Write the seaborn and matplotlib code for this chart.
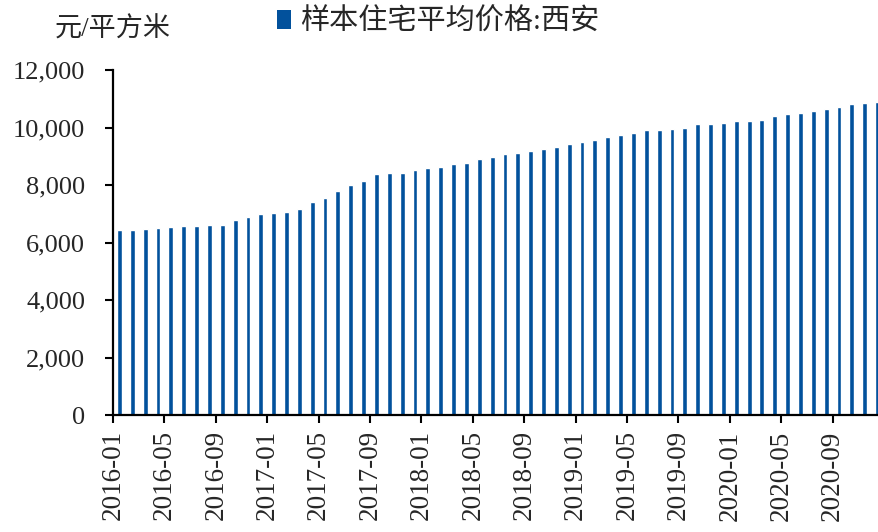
import matplotlib
matplotlib.use("Agg")
import matplotlib.pyplot as plt
from matplotlib.patches import Patch
from matplotlib.ticker import FuncFormatter
import seaborn as sns
import pandas as pd

# Monthly average price of sample residences, Xi'an (yuan per square metre)
months = [f"{y}-{m:02d}" for y in range(2016, 2021) for m in range(1, 13)]
prices = [
    6420, 6430, 6470, 6500, 6540, 6570, 6575, 6610, 6610, 6770, 6890, 6990,
    7030, 7060, 7165, 7400, 7550, 7780, 7990, 8140, 8370, 8415, 8420, 8520,
    8580, 8640, 8730, 8780, 8890, 8985, 9080, 9115, 9180, 9265, 9320, 9440,
    9505, 9565, 9655, 9725, 9810, 9910, 9900, 9935, 9970, 10120, 10125, 10155,
    10225, 10240, 10260, 10400, 10470, 10505, 10560, 10630, 10725, 10815, 10865, 10900,
]
series_name = "样本住宅平均价格:西安"
unit_label = "元/平方米"
y_ticks = [0, 2000, 4000, 6000, 8000, 10000, 12000]

df = pd.DataFrame({"month": months, "price": prices})

sns.set_style("ticks")
plt.rcParams["font.family"] = ["Liberation Serif", "Noto Sans CJK SC"]

bar_color = "#02519C"

fig = plt.figure(figsize=(8.79, 5.32), dpi=100)
ax = fig.add_axes([0.1286, 0.2199, 0.8771, 0.6485])

sns.barplot(data=df, x="month", y="price", color=bar_color, saturation=1,
            width=0.38, ax=ax)

ax.set_xlim(-0.5, len(months) - 0.5)
ax.set_ylim(0, 12000)
ax.set_yticks(y_ticks)
ax.yaxis.set_major_formatter(FuncFormatter(lambda v, p: f"{int(v):,}"))

# Category ticks sit on the boundaries between months, every four months
tick_idx = list(range(0, len(months), 4))
ax.set_xticks([i - 0.5 for i in tick_idx])
ax.set_xticklabels([months[i] for i in tick_idx], rotation=90)

ax.set_xlabel("")
ax.set_ylabel("")
ax.tick_params(axis="y", labelsize=19, length=6, width=1.5, color="black", pad=14)
ax.tick_params(axis="x", labelsize=19.5, length=6, width=1.5, color="black", pad=5)

for side in ("top", "right"):
    ax.spines[side].set_visible(False)
for side in ("left", "bottom"):
    ax.spines[side].set_linewidth(1.6)
    ax.spines[side].set_color("black")

fig.text(0.062, 0.944, unit_label, fontsize=19.5, va="center", ha="left")

fig.legend(handles=[Patch(facecolor=bar_color, edgecolor="none", label=series_name)],
           loc="center left", bbox_to_anchor=(0.315, 0.958), frameon=False,
           fontsize=21, handlelength=0.5, handleheight=0.6, handletextpad=0.3,
           borderaxespad=0, borderpad=0)

fig.savefig("out.png", dpi=100)
